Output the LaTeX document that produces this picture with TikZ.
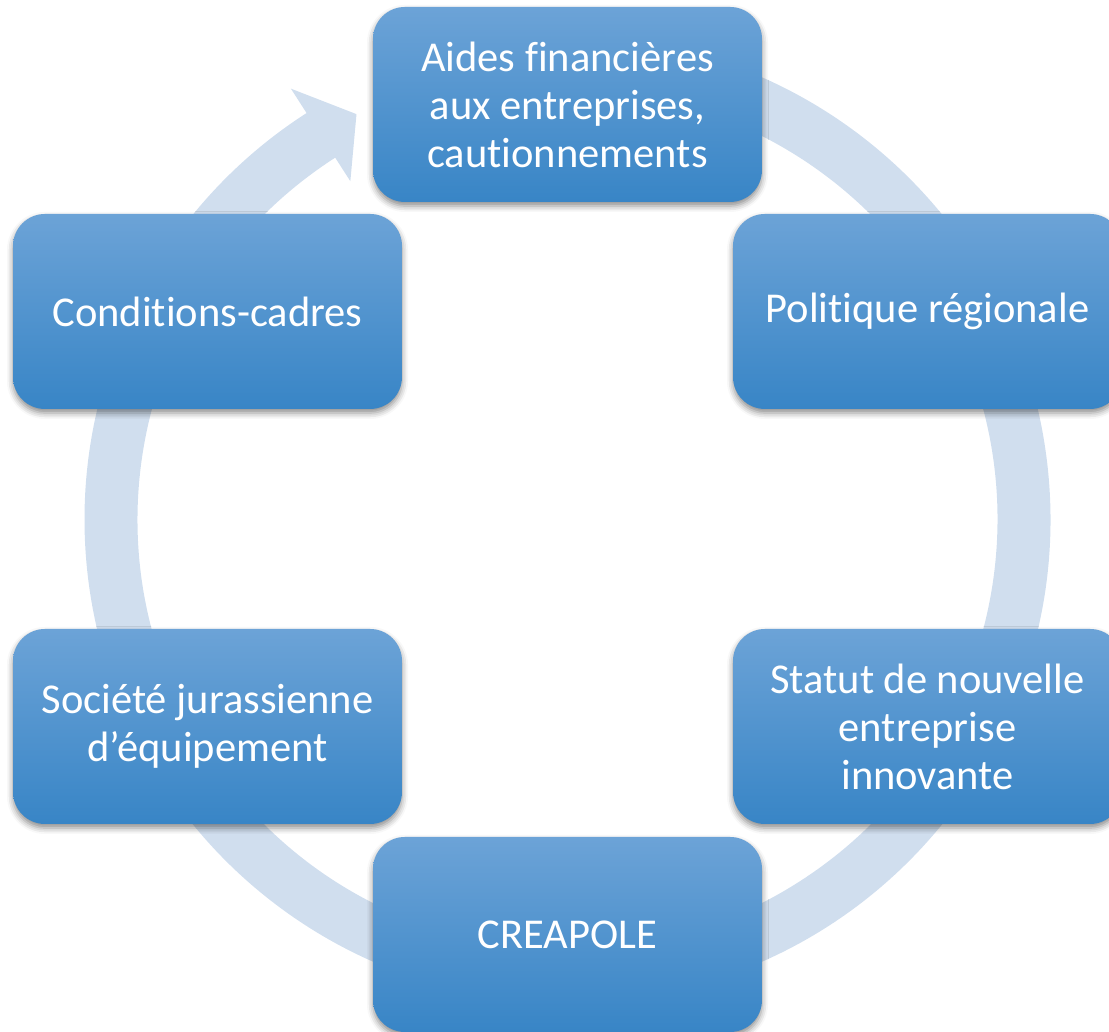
\documentclass[tikz,border=0pt]{standalone}
\usepackage{fontspec}
\setmainfont{Carlito}[Ligatures={NoCommon}]
\usetikzlibrary{shadows.blur}
\definecolor{ringblue}{RGB}{208,222,238}
\definecolor{boxtop}{RGB}{108,163,215}
\definecolor{boxmid}{RGB}{74,147,209}
\definecolor{boxbot}{RGB}{56,133,198}
\begin{document}
\begin{tikzpicture}[x=1pt,y=1pt,
  cyclebox/.style={rectangle, rounded corners=32pt, minimum width=389pt,
    minimum height=195pt, inner sep=0pt, top color=boxtop, middle color=boxmid,
    bottom color=boxbot, draw=none, text=white,
    font=\fontsize{42.5}{48}\selectfont, align=center,
    blur shadow={shadow xshift=0pt, shadow yshift=-4pt,
      shadow blur radius=6pt, shadow opacity=45}},
  ringshape/.style={fill=ringblue, draw=none}]
\useasboundingbox (0,0) rectangle (1109,1032);
\clip (0,0) rectangle (1109,1032);
\coordinate (c) at (567.5,512.5);
\fill[ringshape, shift={(c)}] (95:483) arc[start angle=95, end angle=-237.3, radius=483]
  -- (122.7:512) -- (117.5:457) -- (122.7:402) -- (122.7:430)
  arc[start angle=122.7, end angle=455, radius=430] -- cycle;
\node[cyclebox] (n1) at (567.5,927.5) {Aides financières\\aux entreprises,\\cautionnements};
\node[cyclebox] (n2) at (927.5,720.5) {Politique régionale};
\node[cyclebox] (n3) at (927.5,305.5) {Statut de nouvelle\\entreprise\\innovante};
\node[cyclebox] (n4) at (567.5,97.5) {CREAPOLE};
\node[cyclebox] (n5) at (207.5,305.5) {Société jurassienne\\d’équipement};
\node[cyclebox] (n6) at (207.5,720.5) {Conditions-cadres};
\end{tikzpicture}
\end{document}
